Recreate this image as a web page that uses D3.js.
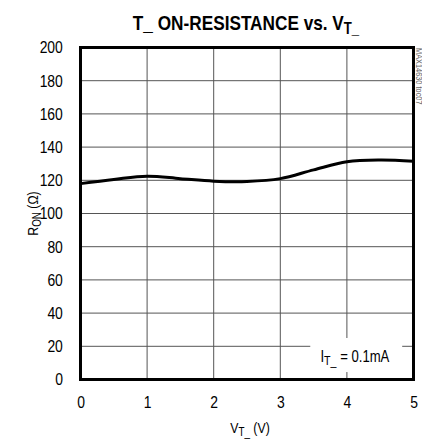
<!DOCTYPE html>
<html>
<head>
<meta charset="utf-8">
<script src="https://cdn.jsdelivr.net/npm/d3@7"></script>
<style>
  body { margin: 0; background: #fff; }
  svg text { font-family: "Liberation Sans", Arial, sans-serif; fill: #000; }
</style>
</head>
<body>
<svg id="chart" width="422" height="440"></svg>
<script>
// data
const vt = [0, 0.5, 1, 1.5, 2, 2.5, 3, 3.5, 4, 4.5, 5];
const ron = [118, 120.5, 122.5, 121, 119.5, 119.3, 121, 126.3, 131.2, 132.2, 131.5];
const xTicks = [0, 1, 2, 3, 4, 5];
const yTicks = [0, 20, 40, 60, 80, 100, 120, 140, 160, 180, 200];

const narrow = 0.82; // squeeze to look like a narrow face

const margin = {top: 47.5, right: 8.5, bottom: 60.5, left: 80.5};
const width = 422 - margin.left - margin.right;
const height = 440 - margin.top - margin.bottom;

const svg = d3.select("#chart");
const g = svg.append("g")
             .attr("transform", "translate(" + margin.left + "," + margin.top + ")");

const x = d3.scaleLinear().domain([0, 5]).range([0, width]);
const y = d3.scaleLinear().domain([0, 200]).range([height, 0]);

// grid
g.append("g")
 .selectAll("line")
 .data(xTicks.slice(1, -1))
 .enter()
 .append("line")
 .attr("x1", d => x(d)).attr("x2", d => x(d))
 .attr("y1", 0).attr("y2", height)
 .style("stroke", "#555").style("stroke-width", 1);

g.append("g")
 .selectAll("line")
 .data(yTicks.slice(1, -1))
 .enter()
 .append("line")
 .attr("x1", 0).attr("x2", width)
 .attr("y1", d => y(d)).attr("y2", d => y(d))
 .style("stroke", "#555").style("stroke-width", 1);

// legend box blanks the grid behind it
g.append("rect")
 .attr("x", x(3.45)).attr("y", y(25))
 .attr("width", x(4.83) - x(3.45)).attr("height", y(4.5) - y(25))
 .style("fill", "#fff");

const legend = g.append("g")
                .attr("transform", "translate(" + x(4.12) + "," + y(10.6) + ") scale(" + narrow + ",1)")
                .append("text")
                .attr("text-anchor", "middle")
                .style("font-size", "16px");
legend.append("tspan").text("I");
legend.append("tspan").attr("dy", 3).style("font-size", "13px").text("T_");
legend.append("tspan").attr("dy", -3).text("\u00a0= 0.1mA");

// curve
const line = d3.line()
               .x((d, i) => x(vt[i]))
               .y(d => y(d))
               .curve(d3.curveCatmullRom);

g.append("path")
 .datum(ron)
 .attr("d", line)
 .style("fill", "none")
 .style("stroke", "#000")
 .style("stroke-width", 3);

// frame
g.append("rect")
 .attr("width", width).attr("height", height)
 .style("fill", "none")
 .style("stroke", "#000")
 .style("stroke-width", 3);

// axes
const xAxis = d3.axisBottom(x).tickValues(xTicks).tickFormat(d3.format("d")).tickSize(0).tickPadding(16.5);
const yAxis = d3.axisLeft(y).tickValues(yTicks).tickFormat(d3.format("d")).tickSize(0).tickPadding(21.5);

const xa = g.append("g").attr("transform", "translate(0," + height + ")").call(xAxis);
const ya = g.append("g").call(yAxis);
[xa, ya].forEach(a => {
  a.select(".domain").remove();
  a.selectAll("text")
   .attr("transform", "scale(" + narrow + ",1)")
   .style("font-size", "17px")
   .style("fill", "#000")
   .style("font-family", "'Liberation Sans', Arial, sans-serif");
});

// axis titles
const xt = svg.append("g")
              .attr("transform", "translate(250,433) scale(" + narrow + ",1)")
              .append("text")
              .attr("text-anchor", "middle")
              .style("font-size", "15px");
xt.append("tspan").text("V");
xt.append("tspan").attr("dy", 3).style("font-size", "12px").text("T_");
xt.append("tspan").attr("dy", -3).text("\u00a0(V)");

const yt = svg.append("g")
              .attr("transform", "translate(38," + (margin.top + height / 2) + ") rotate(-90) scale(" + narrow + ",1)")
              .append("text")
              .attr("text-anchor", "middle")
              .style("font-size", "15px");
yt.append("tspan").text("R");
yt.append("tspan").attr("dy", 3).style("font-size", "12px").text("ON");
yt.append("tspan").attr("dy", -3).text("\u00a0(Ω)");

// title
const title = svg.append("g")
                 .attr("transform", "translate(246,30) scale(" + narrow + ",1)")
                 .append("text")
                 .attr("text-anchor", "middle")
                 .style("font-size", "21px")
                 .style("font-weight", "bold");
title.append("tspan").text("T_ ON-RESISTANCE vs. V");
title.append("tspan").attr("dy", 4).style("font-size", "16px").text("T_");

// part number tag
svg.append("g")
   .attr("transform", "translate(415.5,48) rotate(90) scale(" + narrow + ",1)")
   .append("text")
   .style("font-size", "9px")
   .style("fill", "#666")
   .text("MAX14630 toc07");
</script>
</body>
</html>
